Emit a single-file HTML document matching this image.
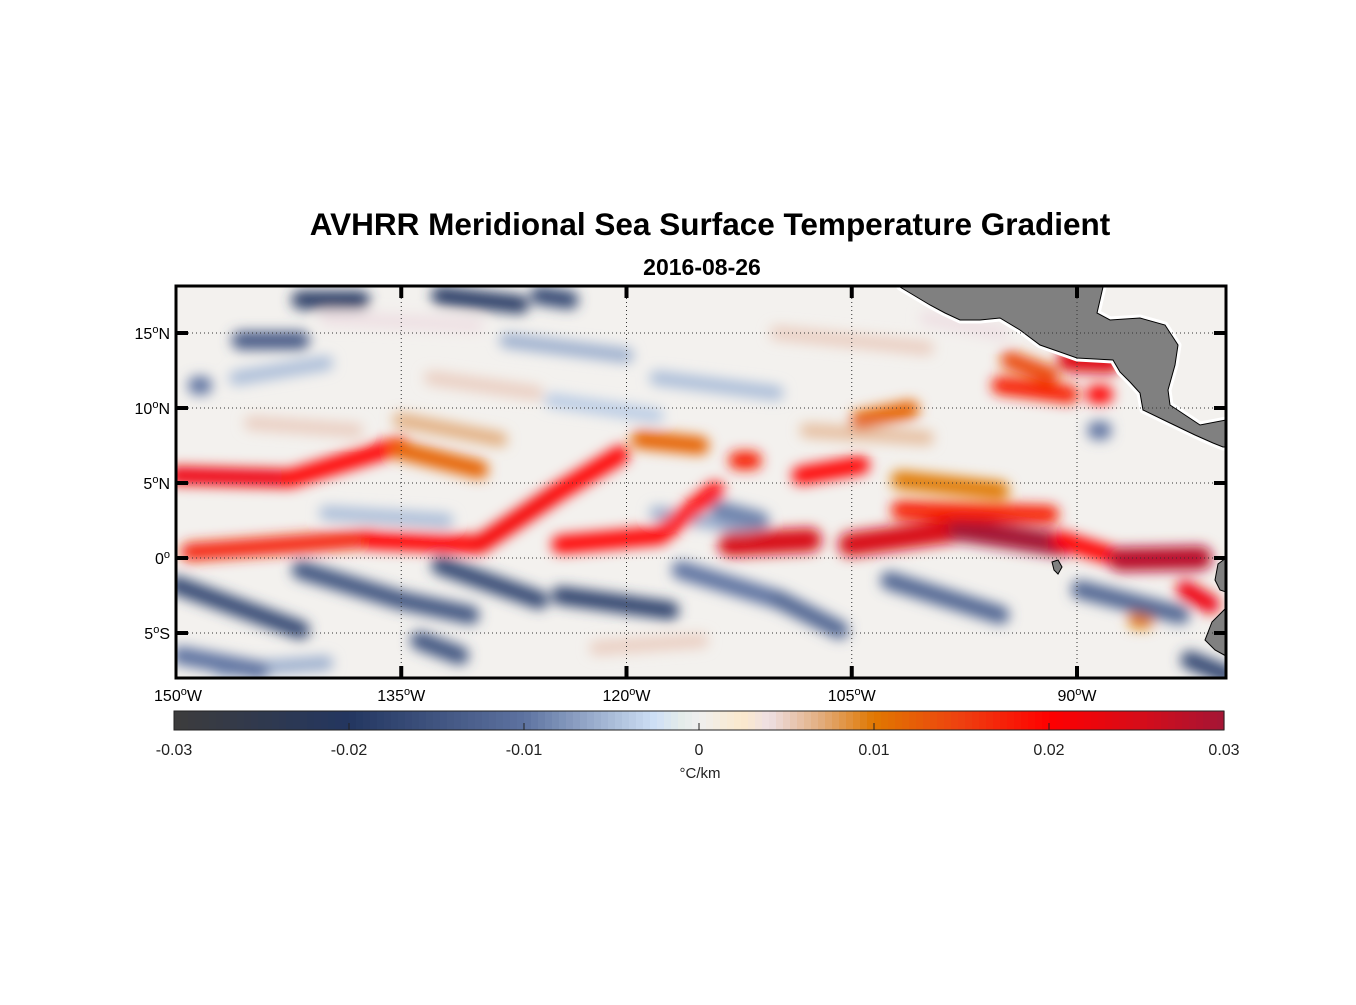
<!DOCTYPE html>
<html><head><meta charset="utf-8"><style>
html,body{margin:0;padding:0;background:#fff;}
svg text{font-family:"Liberation Sans",Arial,sans-serif;}
</style></head><body>
<svg id="fig" width="1356" height="1000" viewBox="0 0 1356 1000" xmlns="http://www.w3.org/2000/svg">
<defs>
<clipPath id="mapclip"><rect x="176" y="286" width="1050" height="392"/></clipPath>
<filter id="blur" x="-20%" y="-20%" width="140%" height="140%"><feGaussianBlur stdDeviation="6.5"/></filter>
</defs>
<rect width="1356" height="1000" fill="#fff"/>
<text x="710" y="235" font-size="31.5" font-weight="bold" text-anchor="middle">AVHRR Meridional Sea Surface Temperature Gradient</text>
<text x="702" y="275" font-size="23" font-weight="bold" text-anchor="middle">2016-08-26</text>
<g id="map" clip-path="url(#mapclip)">
<rect x="176" y="286" width="1050" height="392" fill="#f3f1ee"/>
<g id="field" filter="url(#blur)"></g>
<g id="land">
<polygon fill="#808080" stroke="#fff" stroke-width="7" stroke-linejoin="round" paint-order="stroke" points="900,287 915,296 930,305 945,313 960,320 980,320 1000,318 1020,330 1040,345 1060,352 1077,358 1095,359 1113,360 1120,372 1130,382 1140,393 1143,410 1170,423 1195,435 1213,443 1223,447 1226,447 1226,420 1200,425 1170,405 1168,390 1175,365 1178,345 1165,325 1140,318 1110,320 1097,313 1103,287"/>
<polygon fill="#808080" stroke="#000" stroke-width="1" points="900,287 915,296 930,305 945,313 960,320 980,320 1000,318 1020,330 1040,345 1060,352 1077,358 1095,359 1113,360 1120,372 1130,382 1140,393 1143,410 1170,423 1195,435 1213,443 1223,447 1226,447 1226,420 1200,425 1170,405 1168,390 1175,365 1178,345 1165,325 1140,318 1110,320 1097,313 1103,287"/>
<polygon fill="#808080" stroke="#000" stroke-width="1" points="1052,562 1058,560 1062,567 1058,574 1054,570"/>
<polygon fill="#808080" stroke="#000" stroke-width="1" points="1226,558 1218,564 1215,580 1220,590 1226,592"/>
<polygon fill="#808080" stroke="#000" stroke-width="1" points="1226,608 1212,622 1205,640 1215,650 1226,656"/>
</g>
<g id="grid"></g>
</g>
<rect x="176" y="286" width="1050" height="392" fill="none" stroke="#000" stroke-width="3"/>
<g id="axes"></g>
<g id="cbar"></g>
</svg>
<script>
// streak data: lon1, lat1, lon2, lat2, value (°C/km)
const streakLon1 = [-146,-128,-118,-125,-140,-118,-140,-110,-145,-100,-133,-108,-147,-122,
 -150,-142.4,-135.1,-149.1,-137.1,-129.8,-124.4,-124.4,-117.8,-113.1,-108.4,-112.6,-105.1,-97.8,-101.8,-91.1,-87.1,-82.8,-95.1,-94.5,-90.5,-88.8,-119.1,-104.5,-135.1,-101.8,-86,
 -150,-141.7,-135.1,-132.4,-124.4,-116.4,-109.8,-102.5,-89.8,-149.7,-141.7,-132.4,-145.7,-148.6,-125.8,-82.5,-133.8,-113.8,-88.7];
const streakLat1 = [12,14.5,12,10.5,3,3,16,15,9,16,12,8.5,-7.5,-6,
 5.5,5.3,7.2,0.4,1.2,0.9,4.5,0.9,1.5,0.9,5.5,6.5,0.9,1.9,3.2,1.2,-0.1,-2.1,11.5,13.2,13.2,10.9,7.9,9.2,9.2,5.2,-4.1,
 -1.8,-0.8,-2.8,-0.5,-2.5,-0.8,-2.8,-1.5,-2.1,-6.5,17.2,17.5,14.5,11.5,17.5,-6.8,-5.5,3.2,8.5];
const streakLon2 = [-140,-120,-110,-118,-132,-112,-130,-100,-138,-95,-126,-100,-140,-115,
 -142.4,-135.1,-129.8,-137.1,-129.8,-124.4,-120.4,-117.8,-114.1,-107.8,-104.4,-111.6,-97.8,-91.1,-91.8,-87.8,-81.8,-81.1,-90.5,-91.8,-87.8,-88.2,-115.1,-101.1,-128.4,-95.1,-85.5,
 -141.7,-135.1,-130.4,-125.8,-117.1,-109.8,-105.8,-95.1,-83.1,-144.4,-137.7,-127.1,-141.7,-148.2,-123.8,-80,-131.1,-111.1,-88.3];
const streakLat2 = [13,13.5,11,9.5,2.5,2,15.5,14,8.5,15,11,8,-7,-5.5,
 5.3,7.5,5.9,1.3,0.9,4.5,6.9,1.5,4.5,1.2,6.2,6.5,1.9,0.9,2.9,0.2,0,-3.1,10.9,12.2,13.1,10.9,7.5,9.9,7.9,4.5,-4.1,
 -4.8,-2.8,-3.8,-2.8,-3.5,-2.8,-4.8,-3.8,-3.8,-7.5,17.2,16.9,14.5,11.5,17.2,-7.8,-6.5,2.5,8.5];
const streakVal = [-0.005,-0.006,-0.005,-0.004,-0.005,-0.006,0.004,0.005,0.005,0.004,0.005,0.006,-0.006,0.005,
 0.022,0.02,0.012,0.017,0.02,0.021,0.02,0.02,0.02,0.025,0.02,0.018,0.025,0.03,0.018,0.02,0.028,0.022,0.018,0.014,0.024,0.02,0.012,0.012,0.007,0.01,0.01,
 -0.017,-0.015,-0.015,-0.017,-0.018,-0.01,-0.012,-0.012,-0.012,-0.01,-0.019,-0.019,-0.014,-0.01,-0.017,-0.017,-0.015,-0.009,-0.01];
const lonTicks = [-150,-135,-120,-105,-90];
const lonTickLabels = ["150","135","120","105","90"];
const latTicks = [15,10,5,0,-5];
const latTickLabels = ["15","10","5","0","5"];
const latHemi = ["N","N","N","",'S'];
const cbarTicks = [-0.03,-0.02,-0.01,0,0.01,0.02,0.03];
const cbarTickLabels = ["-0.03","-0.02","-0.01","0","0.01","0.02","0.03"];

const NS="http://www.w3.org/2000/svg";
const X0=176, PXLON=901/60, Y0=558, PXLAT=15;
function xLon(l){return X0+(l+150)*PXLON;}
function yLat(l){return Y0-l*PXLAT;}
const stops=[[-0.03,[60,60,60]],[-0.02,[35,54,96]],[-0.01,[93,114,160]],[-0.005,[169,188,216]],[-0.0025,[207,224,246]],[-0.001,[228,236,234]],[0,[239,239,239]],[0.0025,[251,233,204]],[0.004,[238,223,227]],[0.007,[226,172,124]],[0.01,[224,120,0]],[0.015,[238,64,16]],[0.02,[255,0,0]],[0.025,[216,12,24]],[0.03,[164,21,53]]];
function cmap(v){
  if(v<=stops[0][0])return 'rgb('+stops[0][1]+')';
  for(let i=1;i<stops.length;i++){
    if(v<=stops[i][0]){const a=stops[i-1],b=stops[i];const t=(v-a[0])/(b[0]-a[0]);
      return 'rgb('+a[1].map((c,k)=>Math.round(c+(b[1][k]-c)*t)).join(',')+')';}
  }
  return 'rgb('+stops[stops.length-1][1]+')';
}
const field=document.getElementById('field');
for(let i=0;i<streakVal.length;i++){
  const ln=document.createElementNS(NS,'line');
  
  
  ln.setAttribute('x1',xLon(streakLon1[i]));ln.setAttribute('y1',yLat(streakLat1[i]));
  ln.setAttribute('x2',xLon(streakLon2[i]));ln.setAttribute('y2',yLat(streakLat2[i]));
  ln.setAttribute('stroke',cmap(streakVal[i]));
  const a=Math.abs(streakVal[i]);
  ln.setAttribute('stroke-width',a>0.022?24:(a<0.008?14:18));
  ln.setAttribute('stroke-linecap','round');
  field.appendChild(ln);
}
const grid=document.getElementById('grid'), axes=document.getElementById('axes');
function mk(parent,tag,attrs,name){const e=document.createElementNS(NS,tag);for(const k in attrs)e.setAttribute(k,attrs[k]);
  
  
  parent.appendChild(e);return e;}
lonTicks.forEach((l,i)=>{
  const x=xLon(l);
  if(i>0){mk(grid,'line',{x1:x,y1:286,x2:x,y2:678,stroke:'#333','stroke-width':1,'stroke-dasharray':'1,3'},'lon-gridline');
    mk(axes,'line',{x1:x,y1:286,x2:x,y2:298,stroke:'#000','stroke-width':4},'lon-tick-top');
    mk(axes,'line',{x1:x,y1:666,x2:x,y2:678,stroke:'#000','stroke-width':4},'lon-tick-bottom');}
  const t=mk(axes,'text',{x:x+(i==0?2:0),y:701,'font-size':16,'text-anchor':'middle'},'lon-tick-label');
  t.innerHTML=lonTickLabels[i]+'<tspan dy="-6" font-size="11">o</tspan><tspan dy="6">W</tspan>';
});
latTicks.forEach((l,i)=>{
  const y=yLat(l);
  mk(grid,'line',{x1:176,y1:y,x2:1226,y2:y,stroke:'#333','stroke-width':1,'stroke-dasharray':'1,3'},'lat-gridline');
  mk(axes,'line',{x1:176,y1:y,x2:188,y2:y,stroke:'#000','stroke-width':4},'lat-tick-left');
  mk(axes,'line',{x1:1214,y1:y,x2:1226,y2:y,stroke:'#000','stroke-width':4},'lat-tick-right');
  const t=mk(axes,'text',{x:170,y:y+6,'font-size':16,'text-anchor':'end'},'lat-tick-label');
  t.innerHTML=latTickLabels[i]+'<tspan dy="-6" font-size="11">o</tspan><tspan dy="6">'+latHemi[i]+'</tspan>';
});
// colorbar
const cb=document.getElementById('cbar');
const CX0=174,CW=1050,CY=711,CH=19,N=150;
for(let k=0;k<N;k++){
  const v=-0.03+0.06*(k+0.5)/N;
  mk(cb,'rect',{x:CX0+CW*k/N,y:CY,width:CW/N+0.6,height:CH,fill:cmap(v)},'colorbar-segment');
}
mk(cb,'rect',{x:CX0,y:CY,width:CW,height:CH,fill:'none',stroke:'#222','stroke-width':1},'colorbar-frame');
cbarTicks.forEach((v,i)=>{
  const x=CX0+(v+0.03)/0.06*CW;
  if(i>0&&i<cbarTicks.length-1)mk(cb,'line',{x1:x,y1:CY+CH-7,x2:x,y2:CY+CH,stroke:'#222','stroke-width':1},'colorbar-tick');
  const t=mk(cb,'text',{x:x,y:755,'font-size':16,'text-anchor':'middle',fill:'#222'},'colorbar-tick-label');
  t.textContent=cbarTickLabels[i];
});
const u=mk(cb,'text',{x:700,y:778,'font-size':15,'text-anchor':'middle',fill:'#222'},'colorbar-units');
u.textContent='°C/km';
</script>
</body></html>
